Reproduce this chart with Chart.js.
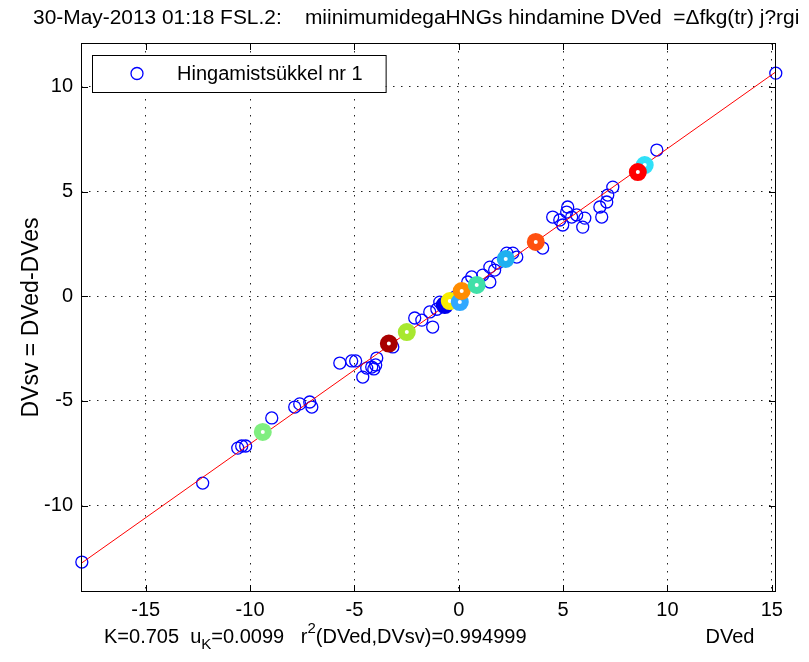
<!DOCTYPE html>
<html>
<head>
<meta charset="utf-8">
<script src="https://cdn.jsdelivr.net/npm/chart.js@4.4.0/dist/chart.umd.min.js"></script>
<style>
html, body { margin: 0; padding: 0; background: #fff; }
</style>
</head>
<body>
<canvas id="myChart" width="809" height="662"></canvas>
<script>
const ctx = document.getElementById('myChart').getContext('2d');

// puntos del ciclo (DVed, DVsv)
const cycleX = [-18.06, -12.27, -10.59, -10.40, -10.21, -8.96, -7.86, -7.62, -7.14, -7.04,
  -5.70, -5.13, -4.94, -4.60, -4.41, -4.17, -4.07, -3.93, -3.98, -3.16,
  -2.11, -1.77, -1.39, -1.25, -0.91, -0.77, -0.19, 0.43, 0.62, 1.15,
  1.49, 1.72, 1.49, 1.87, 2.59, 2.78, 2.30, 4.02, 4.50, 4.84,
  5.17, 5.22, 5.41, 5.65, 5.94, 6.04, 4.98, 6.76, 6.85, 7.09,
  7.14, 7.38, 9.49, 15.19, -0.55, -1.05];
const cycleY = [-12.69, -8.92, -7.25, -7.15, -7.15, -5.81, -5.29, -5.14, -5.05, -5.29,
  -3.19, -3.09, -3.09, -3.86, -3.43, -3.38, -3.47, -2.95, -3.28, -2.42,
  -1.04, -1.14, -0.75, -1.47, -0.28, -0.42, -0.04, 0.68, 0.92, 1.01,
  0.68, 1.25, 1.39, 1.58, 2.06, 1.87, 2.06, 2.30, 3.78, 3.64,
  4.02, 4.26, 3.78, 3.88, 3.30, 3.73, 3.40, 4.26, 3.78, 4.50,
  4.83, 5.21, 6.98, 10.65, -0.30, -0.62];

// puntos marcados en color
const markX = [-9.39, -3.35, -2.49, -0.67, -0.43, 0.05, 0.14, 0.86, 2.25, 3.69, 8.91, 8.58];
const markY = [-6.48, -2.26, -1.71, -0.42, -0.23, -0.28, 0.25, 0.54, 1.78, 2.59, 6.26, 5.93];
const markColors = ['#80ee80', '#a80000', '#a8e830', '#0000ee', '#f8ee00', '#30a8ff',
  '#ff8c00', '#40e0a8', '#20b0f0', '#ff5010', '#30e0f8', '#ff0000'];

// recta ajustada
const fitX = [-18.06, 15.19];
const fitY = [-12.73, 10.71];

const xTicks = [-15, -10, -5, 0, 5, 10, 15];
const yTicks = [-10, -5, 0, 5, 10];
const xRange = [-18.1, 15.2];
const yRange = [-14.12, 12.09];

const titleText = '30-May-2013 01:18 FSL.2:    miinimumidegaHNGs hindamine DVed  =\u0394fkg(tr) j?rgi';
const legendText = 'Hingamistsükkel nr 1';
const fontName = '"Liberation Sans", Arial, sans-serif';

function pts(xs, ys) {
    return xs.map((x, i) => ({x: x, y: ys[i]}));
}

const extras = {
    id: 'extras',
    afterDraw(chart) {
        const c = chart.ctx;
        const a = chart.chartArea;
        const sx = chart.scales.x, sy = chart.scales.y;
        c.save();
        c.strokeStyle = '#000';
        c.lineWidth = 1;
        // marco
        c.strokeRect(Math.round(a.left) + 0.5, Math.round(a.top) + 0.5,
            Math.round(a.right - a.left) - 1, Math.round(a.bottom - a.top) - 1);
        // marcas hacia adentro
        c.beginPath();
        xTicks.forEach(v => {
            const p = Math.round(sx.getPixelForValue(v)) + 0.5;
            c.moveTo(p, a.bottom); c.lineTo(p, a.bottom - 7);
            c.moveTo(p, a.top); c.lineTo(p, a.top + 7);
        });
        yTicks.forEach(v => {
            const p = Math.round(sy.getPixelForValue(v)) + 0.5;
            c.moveTo(a.left, p); c.lineTo(a.left + 7, p);
            c.moveTo(a.right, p); c.lineTo(a.right - 7, p);
        });
        c.stroke();

        // leyenda
        c.font = '20px ' + fontName;
        const tw = c.measureText(legendText).width;
        const lx = a.left + 11, ly = a.top + 12;
        const lw = 96 + tw + 12, lh = 37;
        c.fillStyle = '#fff';
        c.fillRect(lx, ly, lw, lh);
        c.strokeRect(Math.round(lx) + 0.5, Math.round(ly) + 0.5, lw, lh);
        c.beginPath();
        c.strokeStyle = '#0000ff';
        c.lineWidth = 1.3;
        c.arc(lx + 45, ly + 18.5, 6, 0, Math.PI * 2);
        c.stroke();
        c.fillStyle = '#000';
        c.textBaseline = 'middle';
        c.fillText(legendText, lx + 85, ly + 19);

        // titulo
        c.font = '20px ' + fontName;
        const w20 = c.measureText(titleText).width;
        const fs = 20 * 767 / w20;
        c.font = fs.toFixed(2) + 'px ' + fontName;
        c.fillText(titleText, 33, 18);

        // texto inferior
        const y0 = 637;
        let x = 104;
        const big = '20px ' + fontName, small = '15px ' + fontName;
        const parts = [
            ['K=0.705  u', big, 0],
            ['K', small, 8],
            ['=0.0099   r', big, 0],
            ['2', small, -8],
            ['(DVed,DVsv)=0.994999', big, 0]
        ];
        parts.forEach(p => {
            c.font = p[1];
            c.fillText(p[0], x, y0 + p[2]);
            x += c.measureText(p[0]).width;
        });
        c.font = big;
        c.textAlign = 'center';
        c.fillText('DVed', 730, y0);
        c.restore();
    }
};

const myChart = new Chart(ctx, {
    type: 'scatter',
    data: {
        datasets: [{
            label: 'marcas',
            data: pts(markX, markY),
            pointRadius: 5.5,
            pointBorderWidth: 7,
            pointBorderColor: markColors,
            pointBackgroundColor: '#fff',
            clip: false,
            order: 0
        }, {
            label: 'ajuste',
            data: pts(fitX, fitY),
            showLine: true,
            borderColor: '#ff0000',
            borderWidth: 1,
            pointRadius: 0,
            order: 1
        }, {
            label: legendText,
            data: pts(cycleX, cycleY),
            pointRadius: 6,
            pointBorderWidth: 1.3,
            pointBorderColor: '#0000ff',
            pointBackgroundColor: 'rgba(0,0,0,0)',
            clip: false,
            order: 2
        }]
    },
    options: {
        responsive: false,
        devicePixelRatio: 1,
        animation: false,
        layout: { padding: { left: 0, top: 43, right: 33, bottom: 0 } },
        plugins: {
            legend: { display: false },
            title: { display: false },
            tooltip: { enabled: false }
        },
        scales: {
            x: {
                type: 'linear',
                min: xRange[0],
                max: xRange[1],
                afterBuildTicks: s => { s.ticks = xTicks.map(v => ({value: v})); },
                afterFit: s => { s.height = 70; },
                ticks: { autoSkip: false, maxRotation: 0, padding: 6, color: '#000',
                    font: { family: fontName, size: 20 } },
                grid: { color: '#222', lineWidth: 1, drawTicks: false },
                border: { display: false, dash: [1.5, 6.5] }
            },
            y: {
                type: 'linear',
                min: yRange[0],
                max: yRange[1],
                afterBuildTicks: s => { s.ticks = yTicks.map(v => ({value: v})); },
                afterFit: s => { s.width = 81; },
                ticks: { padding: 8, color: '#000', font: { family: fontName, size: 20 } },
                grid: { color: '#222', lineWidth: 1, drawTicks: false },
                border: { display: false, dash: [1.5, 6.5] },
                title: { display: true, text: 'DVsv = DVed-DVes', color: '#000',
                    font: { family: fontName, size: 23 }, padding: { top: 18, bottom: 0 } }
            }
        }
    },
    plugins: [extras]
});
</script>
</body>
</html>
